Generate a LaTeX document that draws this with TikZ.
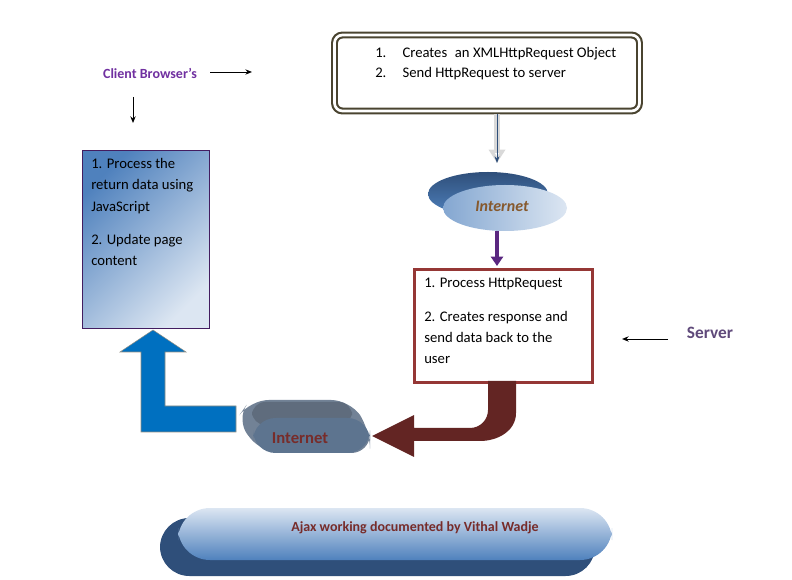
\documentclass[tikz,border=0pt]{standalone}
\usepackage{fontspec}
\setmainfont{Carlito}
\usetikzlibrary{arrows.meta,shapes.geometric}
\definecolor{dblue}{HTML}{2F4F7A}
\definecolor{lblue}{HTML}{DCE6F2}
\definecolor{mblue}{HTML}{4F81BD}
\definecolor{dred}{HTML}{632523}
\definecolor{bred}{HTML}{953735}
\definecolor{olive}{HTML}{4A4430}
\definecolor{purp}{HTML}{7030A0}
\definecolor{spurp}{HTML}{5F497A}
\tikzset{
  txt/.style={font=\fontsize{11}{16}\selectfont, align=left, anchor=north west, inner sep=0pt},
  thin arrow/.style={-{Stealth[length=5pt,width=4pt]}, black, line width=0.7pt},
}
\begin{document}
\begin{tikzpicture}[x=0.75pt,y=-0.75pt]
\useasboundingbox (0,0) rectangle (792,580);
% top box
\node (top) [draw=olive, double=white, double distance=2pt, line width=1.6pt, rounded corners=6pt, minimum width=305pt*0.75, minimum height=76pt*0.75, fill=white] at (487,73) {};
\node (t1) [txt] at (375,47) {1.\hspace{1.1em}Creates\hspace{0.3em} an XMLHttpRequest Object};
\node (t2) [txt] at (375,67) {2.\hspace{1.1em}Send HttpRequest to server};
% client
\node (cb) [font=\fontsize{10.5}{12}\bfseries\selectfont, text=purp] at (150,73) {Client Browser’s};
\coordinate (cba) at (210,72); \coordinate (cbb) at (252,72);
\draw[thin arrow] (cba) -- (cbb);
\coordinate (cbc) at (133,97); \coordinate (cbd) at (133,123);
\draw[thin arrow] (cbc) -- (cbd);
% left box
\node (lb) [draw=purp!60!black, left color=mblue, right color=lblue, shading angle=45, minimum width=127pt*0.75, minimum height=178pt*0.75, anchor=north west, inner sep=0pt] at (82,150) {};
\node (lt) [txt, text width=112pt*0.75, align=flush left] at (91,158) {1. Process the return data using JavaScript\\[9pt]2. Update page content};
% hollow arrow from top box
\coordinate (ha) at (497,114); \coordinate (hb) at (497,163);
\draw[-{Triangle[open,length=10pt,width=12pt]}, line width=5pt, draw=gray!30] (ha) -- (hb);
\draw[-{Stealth[length=5pt]}, dblue, line width=0.6pt] (ha) -- (hb);
% Internet top
\shade[top color=dblue, bottom color=mblue] (488,194) ellipse [x radius=60, y radius=22];
\shade[left color=mblue!70, right color=lblue] (505,208) ellipse [x radius=62, y radius=23];
\node (inet1) [font=\fontsize{12}{14}\bfseries\itshape\selectfont, text=brown!70!black] at (502,206) {Internet};
% purple arrow
\coordinate (pa) at (497,231); \coordinate (pb) at (497,266);
\draw[-{Triangle[length=7pt,width=9pt]}, purp!80!black, line width=3pt] (pa) -- (pb);
% server box
\node (sb) [draw=bred, line width=2.2pt, fill=white, minimum width=178pt*0.75, minimum height=113pt*0.75, anchor=north west] at (413,268) {};
\node (st) [txt, text width=150pt*0.75, align=flush left] at (424,278) {1. Process HttpRequest\\[9pt]2. Creates response and send data back to the user};
\node (srv) [font=\fontsize{13}{15}\bfseries\selectfont, text=spurp] at (710,333) {Server};
\coordinate (sa) at (668,339); \coordinate (sb2) at (622,339);
\draw[thin arrow] (sa) -- (sb2);
% dark red curved arrow
\fill[dred] (488,381) -- (516,381) -- (516,413) to[out=-90,in=0] (480,441) -- (414,441) -- (414,457) -- (372,436) -- (414,415) -- (414,428) -- (470,428) to[out=0,in=-90] (488,410) -- cycle;
% blue L arrow
\fill[fill={rgb,255:red,0;green,112;blue,192}, draw=olive!60] (236,432) -- (141,432) -- (141,352) -- (120,352) -- (153,330) -- (186,352) -- (165,352) -- (165,406) -- (236,406) -- cycle;
% Internet lower capsule
\fill[gray!40!dblue!80, rounded corners=14pt] (236,420) -- (250,400) -- (350,400) -- (370,430) -- (370,453) -- (262,453) -- cycle;
\fill[gray!60!dblue, rounded corners=10pt] (252,402) rectangle (352,425);
\fill[gray!50!mblue!90!black, rounded corners=17pt] (253,418) rectangle (370,453);
\node (inet2) [font=\fontsize{12.5}{14}\bfseries\selectfont, text=bred!80!black] at (300,438) {Internet};
% bottom banner
\fill[dblue, rounded corners=22pt] (160,518) rectangle (595,576);
\shade[top color=lblue, bottom color=mblue, rounded corners=24pt] (178,508) rectangle (612,560);
\node (ban) [font=\fontsize{10.5}{12}\bfseries\selectfont, text=bred!80!black] at (415,528) {Ajax working documented by Vithal Wadje};
\end{tikzpicture}
\end{document}
